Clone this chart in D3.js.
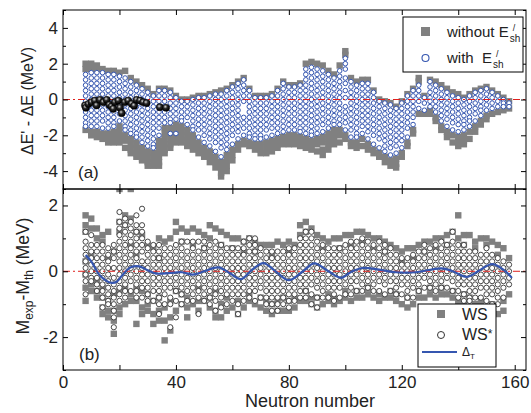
<!DOCTYPE html>
<html>
<head>
<meta charset="utf-8">
<script src="https://cdn.jsdelivr.net/npm/d3@7"></script>
<style>
  body { margin: 0; background: #fff; }
  svg { display: block; font-family: "Liberation Sans", Arial, sans-serif; }
</style>
</head>
<body>
<svg id="chart" width="531" height="413"></svg>
<script>
// ---- data (values in tenths of MeV, "N:v v v ...") ----
// panel (a): with E'sh (blue open circles)
const withEsh = [
  "8:14 11 8 5 2 -1 -4 -7 -10 -13 -15", "10:15 12 9 6 3 0 -3 -6 -9 -12 -15",
  "12:15 12 9 6 3 0 -3 -6 -9 -12 -15", "14:15 12 9 6 3 0 -3 -6 -9 -12 -16",
  "16:14 11 8 5 2 -1 -4 -7 -10 -13 -16", "18:14 11 8 5 2 -1 -4 -7 -10 -13 -15",
  "20:13 10 7 4 1 -2 -5 -8 -12", "22:12 9 6 3 0 -3 -6 -9 -12 -15 -17",
  "24:10 7 4 1 -2 -5 -8 -11 -14 -17 -19", "26:8 5 2 -1 -4 -7 -10 -13 -16 -19 -21",
  "28:6 3 0 -3 -6 -9 -12 -15 -18 -21 -24", "30:4 1 -2 -5 -8 -11 -14 -17 -20 -23 -26",
  "32:2 -1 -4 -7 -10 -13 -16 -19 -22 -25 -27", "34:5 2 -1 -4 -7 -10 -13 -16 -20",
  "36:5 2 -1 -4 -7 -10 -13", "38:4 1 -2 -5 -8 -11 -13 -19",
  "40:1 -2 -5 -8 -11 -19", "42:-1 -4 -7 -10 -12", "44:-1 -4 -7 -10 -14",
  "46:0 -3 -6 -9 -12 -15 -17", "48:1 -2 -5 -8 -11 -14 -17 -21",
  "50:1 -2 -5 -8 -11 -14 -17 -20 -24", "52:2 -1 -4 -7 -10 -13 -16 -19 -22 -26",
  "54:3 0 -3 -6 -9 -12 -15 -18 -21 -24 -29", "56:3 0 -3 -6 -9 -12 -15 -18 -21 -24 -27 -32",
  "58:5 2 -1 -4 -7 -10 -13 -16 -19 -22 -25 -28", "60:7 4 1 -2 -5 -8 -11 -14 -17 -20 -25",
  "62:9 6 3 0 -3 -6 -9 -12 -15 -18 -22", "64:11 8 5 2 -1 -10 -13 -16 -20",
  "66:5 2 -1 -4 -7 -10 -13 -16 -19 -21", "68:1 -2 -5 -8 -11 -14 -17 -20 -22",
  "70:1 -2 -5 -8 -11 -14 -17 -20 -22", "72:1 -2 -5 -8 -11 -14 -17 -21",
  "74:2 -1 -4 -7 -10 -13 -16 -20", "76:5 2 -1 -4 -7 -10 -13 -16 -19",
  "78:9 6 3 0 -3 -6 -9 -12 -15 -18", "80:7 4 1 -2 -5 -8 -11 -14 -17",
  "82:7 4 1 -2 -5 -8 -11 -14 -17", "84:8 5 2 -1 -4 -7 -10 -13 -16 -18",
  "86:17 14 11 8 5 2 -1 -4 -7 -10 -13 -16 -19", "88:18 15 12 9 6 3 0 -3 -6 -9 -12 -15 -18 -20",
  "90:17 14 11 8 5 2 -1 -4 -7 -10 -13 -16 -19", "92:16 13 10 7 4 1 -2 -5 -8 -11 -14 -18",
  "94:14 11 8 5 2 -1 -4 -7 -10 -13 -16", "96:12 9 6 3 0 -3 -6 -9 -12 -14",
  "98:16 13 10 7 4 1 -2 -5 -8 -11 -14", "100:23 20 17 12 9 5 1 -4 -7 -10 -13 -17",
  "102:10 7 4 1 -2 -5 -8 -11 -14 -17 -21", "104:8 5 2 -1 -4 -7 -10 -13 -16 -19 -21",
  "106:9 6 3 0 -3 -6 -9 -12 -15 -19", "108:9 6 3 0 -3 -6 -9 -12 -15 -18 -22",
  "110:4 1 -2 -5 -8 -11 -14 -17 -20 -25", "112:-1 -4 -7 -10 -13 -16 -19 -22 -27",
  "114:-2 -5 -8 -11 -14 -17 -20 -23 -26 -29", "116:-3 -6 -9 -12 -15 -18 -21 -24 -27 -31",
  "118:-5 -8 -11 -14 -17 -20 -23 -26 -30", "120:-2 -5 -8 -11 -14 -17 -20 -23 -27",
  "122:2 -1 -4 -7 -10 -13 -16 -21", "124:5 2 -1 -4 -7 -10 -14",
  "126:8 5 2 -1 -5", "128:1 -2 -6", "130:10 7 4 1 -1 -4", "132:8 5 2 -1 -4 -7",
  "134:6 3 0 -3 -6 -9 -12", "136:4 1 -2 -5 -8 -11 -15", "138:2 -1 -4 -7 -10 -13 -17",
  "140:1 -2 -5 -8 -11 -14 -18", "142:0 -3 -6 -9 -12 -14 -17", "144:2 -1 -4 -7 -10 -12 -15",
  "146:4 1 -2 -5 -8 -12", "148:5 2 -1 -4 -6 -9", "150:6 3 0 -3 -6", "152:4 1 -2 -5",
  "154:2 -1 -4", "156:0 -2 -4", "158:-2 -4"
];
// panel (a): without E'sh (grey squares)
const withoutEsh = [
  "8:20 17 -17", "10:20 17 -18 -20", "12:19 17 -18 -21", "14:17 -19 -22", "16:16 -19 -22 -24",
  "18:16 -18 -21 -24", "20:15 -15 -18 -21 -24", "22:16 -20 -23 -27", "24:12 -22 -25 -28 -30",
  "26:10 -24 -27 -30 -32", "28:8 -27 -30 -33 -34", "30:6 -29 -32 -35 -37", "32:3 -30 -33 -35 -37",
  "34:6 -23 -26 -29 -32 -35 -37", "36:6 -16 -19 -22 -25 -28 -30", "38:5 -16 -19 -22 -25 -27",
  "40:2 -14 -17 -20 -22 -24", "42:0 -15 -18 -21 -24", "44:0 -17 -20 -23 -26", "46:1 -20 -23 -26 -28",
  "48:2 -24 -27 -30", "50:2 -27 -30 -32", "52:3 -29 -32 -35", "54:4 -32 -35 -38",
  "56:5 -35 -38 -41 -43", "58:6 -31 -34 -37 -40", "60:8 -28 -31 -34", "62:10 -25 -28",
  "64:12 -23 -25", "66:6 -24 -26", "68:2 -25 -28", "70:2 -25 -28 -30", "72:2 -24 -27 -30",
  "74:3 -23 -26 -29", "76:6 -22 -25 -27", "78:10 -21 -24 -25", "80:8 -20 -23 -25",
  "82:8 -20 -23 -25", "84:9 -21 -24 -26", "86:20 -22 -25 -27", "88:21 -23 -26 -28",
  "90:20 -22 -25 -29", "92:19 -21 -24 -28 -31", "94:16 -19 -22 -25 -28", "96:14 -17 -20 -23 -25",
  "98:19 -17 -20 -24", "100:27 25 -20 -22", "102:12 -24 -26", "104:10 -24 -27", "106:11 -22 -26",
  "108:11 -25 -28", "110:5 -28 -30", "112:0 -30 -32", "114:-1 -32 -35", "116:-2 -34 -37",
  "118:-4 -33 -36 -38", "120:-1 -30 -32", "122:3 -24 -26", "124:6 -17 -19", "126:12 10 -8",
  "128:2 -8", "130:11 -6 -8", "132:10 -10 -12", "134:8 -15 -17", "136:6 -18 -21",
  "138:4 -20 -24", "140:3 -21 -24 -26", "142:1 -20 -23 -25", "144:3 -18 -22", "146:5 -15 -18",
  "148:6 -12 -14", "150:7 -9 -11", "152:5 -8", "154:3 -7", "156:1 -6", "158:-1 -5"
];
// panel (a): black balls [N, MeV]
const lightN = [7.8, 8.1, 9.0, 10.1, 11.3, 11.9, 13.1, 14.3, 15.5, 16.4, 17.2, 17.8, 18.4, 19.6, 20.2, 20.8, 21.9, 23.1, 24.3, 25.2, 26.1, 27.3, 28.4, 29.6, 34.3, 36.5];
const lightV = [-0.33, -0.46, -0.25, -0.15, -0.06, -0.33, -0.02, -0.15, -0.02, -0.3, -0.39, -0.52, -0.15, -0.06, -0.46, -0.76, -0.15, -0.06, -0.24, -0.35, -0.02, -0.06, -0.15, -0.2, -0.43, -0.46];

// panel (b): WS (grey squares)
const ws = [
  "8:17 14 12 3 -1 -5 -9", "10:16 13 5 -4 -6", "12:13 10 -3 -6 -8", "14:11 9 -5 -8 -11 -13",
  "16:12 4 -9 -12 -14", "18:6 -7 -12 -15 -19", "20:25 15 12 -6 -11 -13", "22:17 14 -5 -10",
  "24:25 16 8 -7 -9", "26:12 5 -5 -9 -16", "28:11 -6 -11 -13", "30:8 -7 -10 -12",
  "32:7 -9 -13 -16", "34:10 4 -8 -12 -15", "36:9 -11 -15 -21", "38:10 -9 -14 -18",
  "40:15 12 -6 -12", "42:13 9 -7 -10", "44:12 -8 -11 -14", "46:13 8 -10", "48:12 -5 -9 -12",
  "50:11 7 -9", "52:14 10 -8 -11", "54:13 -6 -12 -14", "56:12 8 -10 -14", "58:11 -8 -12",
  "60:10 7 -11", "62:10 -9 -13", "64:9 6 -11", "66:10 -7 -9", "68:9 6 -10", "70:8 -8 -11",
  "72:8 -9 -12", "74:8 5 -10 -13", "76:9 -9 -12", "78:8 -8 -12", "80:9 6 -9 -12", "82:8 -8 -11",
  "84:14 11 -9", "86:15 12 -6 -9", "88:13 -8 -10", "90:11 -8 -11", "92:10 7 -10", "94:9 -7 -9",
  "96:10 -8 -10", "98:10 7 -9", "100:11 -6 -8", "102:11 8 -9", "104:12 -6 -8", "106:12 9 -8",
  "108:11 -5 -7", "110:10 7 -8", "112:10 -7 -9", "114:9 6 -8", "116:8 -6 -8", "118:7 -7 -9",
  "120:6 3 -10", "122:7 -8 -11", "124:7 4 -10", "126:8 -6 -8", "128:9 6 -8", "130:9 -5 -7",
  "132:10 7 -8", "134:10 -5 -7", "136:11 8 -7", "138:12 -6 -8", "140:17 10 -9", "142:11 8 -7 -10",
  "144:11 -8 -11", "146:9 7 -10", "148:10 -9 -11", "150:10 8 -12", "152:9 -10 -13",
  "154:8 5 -13", "156:7 -9 -12", "158:4 -7"
];
// panel (b): WS* (open circles)
const wsStar = [
  "8:12 9 7 5 3 1 -1 -3 -7", "10:11 8 6 4 2 0 -2 -3", "12:8 6 4 2 0 -2 -4 -6",
  "14:8 6 4 2 0 -2 -4 -6 -8 -11", "16:7 5 3 1 -1 -3 -5 -7 -9 -10",
  "18:8 6 4 1 -2 -4 -6 -8 -10 -12 -14 -17", "20:18 15 13 11 9 7 5 3 1 -1 -3 -5 -7 -9",
  "22:16 14 12 10 8 6 4 2 0 -2 -4 -6 -8", "24:15 13 11 9 7 5 3 1 -1 -3 -6",
  "26:17 14 12 10 8 6 4 2 0 -2 -4 -6 -8", "28:19 14 12 10 8 6 3 1 -1 -3 -5 -8",
  "30:9 7 5 3 1 -1 -3 -5 -7 -9", "32:8 6 4 2 0 -2 -4 -6 -9",
  "34:8 6 4 2 0 -2 -4 -6 -8 -10 -13", "36:7 5 3 1 -1 -3 -5 -7 -10",
  "38:7 5 3 1 -1 -3 -5 -8 -10 -17", "40:8 6 4 2 0 -2 -4 -6 -9 -14",
  "42:9 7 5 3 1 -1 -3 -5 -7 -10", "44:9 6 4 2 0 -2 -4 -6 -9",
  "46:9 7 5 3 1 -1 -3 -5 -7 -9", "48:9 6 4 2 0 -2 -4 -6 -8 -13",
  "50:9 7 5 3 1 -1 -3 -5 -7 -9", "52:8 6 4 2 0 -2 -4 -6 -8 -10",
  "54:9 7 5 3 1 -1 -3 -5 -7 -9 -12", "56:8 6 4 2 0 -2 -4 -6 -8 -11",
  "58:7 5 3 1 -1 -3 -5 -7 -10", "60:7 5 3 1 -1 -3 -5 -7 -9",
  "62:7 5 3 1 -1 -3 -5 -7 -10 -13", "64:9 7 5 3 1 -1 -3 -5 -7 -9",
  "66:10 8 6 4 2 0 -2 -4 -6 -8", "68:10 8 6 4 2 0 -2 -4 -6 -9",
  "70:7 5 3 1 -1 -3 -5 -8", "72:6 4 2 0 -2 -4 -6 -8 -10",
  "74:6 4 2 0 -2 -4 -6 -8 -10 -12", "76:6 4 2 0 -2 -4 -6 -8 -10 -12",
  "78:6 4 2 0 -2 -4 -6 -8 -10", "80:7 5 3 1 -1 -3 -5 -7 -9 -11",
  "82:7 5 3 1 -1 -3 -5 -7 -9", "84:10 8 6 4 2 0 -2 -4 -6 -8",
  "86:12 10 8 6 4 2 0 -2 -4 -6 -8", "88:12 10 8 6 4 2 0 -2 -4 -7 -10",
  "90:9 7 5 3 1 -1 -3 -5 -8 -11", "92:8 6 4 2 0 -2 -4 -6 -8",
  "94:7 5 3 1 -1 -3 -5 -8", "96:7 5 3 1 -1 -3 -5 -7 -9", "98:7 5 3 1 -1 -3 -5 -8",
  "100:8 6 4 2 0 -2 -4 -7", "102:9 7 5 3 1 -1 -3 -5 -7", "104:9 7 5 3 1 -1 -3 -6",
  "106:10 8 6 4 2 0 -2 -4 -6", "108:9 7 5 3 1 -1 -3 -5", "110:8 6 4 2 0 -2 -4 -6",
  "112:9 7 5 3 1 -1 -3 -6", "114:8 6 4 2 0 -2 -4 -7", "116:7 5 3 1 -1 -3 -6",
  "118:5 3 1 -1 -3 -5 -7", "120:4 2 0 -2 -4 -7", "122:4 2 0 -2 -4 -6 -8",
  "124:5 3 1 -1 -3 -5 -8", "126:6 4 2 0 -2 -4 -6", "128:8 6 4 2 0 -2 -5",
  "130:7 5 3 1 -1 -3 -5", "132:8 6 4 2 0 -2 -4 -6", "134:9 7 5 3 1 -1 -3 -5",
  "136:8 6 4 2 0 -2 -5", "138:12 9 7 5 3 1 -1 -3 -6", "140:8 6 4 2 0 -2 -4 -6 -8",
  "142:8 6 4 2 0 -2 -4 -7 -9", "144:6 4 2 0 -2 -4 -6 -8 -9", "146:6 4 2 0 -2 -4 -6 -8",
  "148:5 3 1 -1 -3 -5 -8", "150:7 5 3 1 -1 -3 -5 -7 -9", "152:5 3 1 -1 -3 -5 -7 -10",
  "154:4 2 0 -2 -4 -6 -8 -10", "156:3 1 -1 -3 -5 -8", "158:2 0 -2 -4"
];
// panel (b): Delta_T curve
const deltaN = [8, 10, 13, 17, 19, 21, 24, 27, 30, 33, 38, 42, 46, 50, 55, 59, 63, 67, 71, 75, 80, 85, 89, 94, 98.5, 102, 106, 112, 118, 125, 134, 138, 143, 147, 152, 156, 159];
const deltaV = [0.49, 0.3, -0.12, -0.35, -0.32, -0.12, 0.12, 0.15, 0.03, -0.07, -0.05, -0.03, -0.1, 0.0, 0.12, -0.05, -0.24, 0.05, 0.25, 0.02, -0.27, 0.0, 0.24, 0.0, -0.2, -0.02, 0.1, 0.05, -0.03, -0.03, 0.09, 0.0, -0.17, 0.0, 0.22, 0.05, -0.2];

const xTicks = [0, 20, 40, 60, 80, 100, 120, 140, 160];
const xLabels = [0, 40, 80, 120, 160];

// ---- helpers ----
function parseCols(list) {
  return list.flatMap(s => {
    const [n, vals] = s.split(":");
    return vals.trim().split(/\s+/).map(v => ({ n: +n, v: +v / 10 }));
  });
}

const svg = d3.select("#chart");
const L = 63, R = 526;
const x = d3.scaleLinear([0, 164], [L, R]);
const yA = d3.scaleLinear([-5, 5], [189, 10]);
const yB = d3.scaleLinear([-3, 2.5], [370, 189]);

const defs = svg.append("defs");
const grad = defs.append("radialGradient").attr("id", "ball").attr("cx", "40%").attr("cy", "35%").attr("r", "60%");
grad.append("stop").attr("offset", "0%").attr("stop-color", "#d8d8d8");
grad.append("stop").attr("offset", "45%").attr("stop-color", "#2a2a2a");
grad.append("stop").attr("offset", "100%").attr("stop-color", "#000");
[["clipA", yA], ["clipB", yB]].forEach(([id, y]) => {
  defs.append("clipPath").attr("id", id).append("rect")
    .attr("x", L).attr("y", y.range()[1]).attr("width", R - L).attr("height", y.range()[0] - y.range()[1]);
});

const GREY = "#808080", BLUE = "#3556b0";

// ---- panel (a) ----
const gA = svg.append("g").attr("clip-path", "url(#clipA)");
gA.selectAll(".sqA").data(parseCols(withoutEsh)).join("rect")
  .attr("x", d => x(d.n) - 3.2).attr("y", d => yA(d.v) - 3.2)
  .attr("width", 6.4).attr("height", 6.4).attr("fill", GREY);
gA.selectAll(".cA").data(parseCols(withEsh)).join("circle")
  .attr("cx", d => x(d.n)).attr("cy", d => yA(d.v)).attr("r", 2.3)
  .attr("fill", "#fff").attr("stroke", BLUE).attr("stroke-width", 1);
gA.append("line").attr("x1", L).attr("x2", R).attr("y1", yA(0)).attr("y2", yA(0))
  .attr("stroke", "#e0201c").attr("stroke-width", 1).attr("stroke-dasharray", "7,3,2,3");
gA.selectAll(".ball").data(lightN.map((n, i) => ({ n, v: lightV[i] }))).join("circle")
  .attr("cx", d => x(d.n)).attr("cy", d => yA(d.v)).attr("r", 3.6)
  .attr("fill", "url(#ball)").attr("stroke", "#000").attr("stroke-width", 0.5);

// ---- panel (b) ----
const gB = svg.append("g").attr("clip-path", "url(#clipB)");
gB.selectAll(".sqB").data(parseCols(ws)).join("rect")
  .attr("x", d => x(d.n) - 3.2).attr("y", d => yB(d.v) - 3.2)
  .attr("width", 6.4).attr("height", 6.4).attr("fill", GREY);
gB.selectAll(".cB").data(parseCols(wsStar)).join("circle")
  .attr("cx", d => x(d.n)).attr("cy", d => yB(d.v)).attr("r", 2.6)
  .attr("fill", "#fff").attr("stroke", "#333").attr("stroke-width", 0.9);
gB.append("line").attr("x1", L).attr("x2", R).attr("y1", yB(0)).attr("y2", yB(0))
  .attr("stroke", "#e0201c").attr("stroke-width", 1).attr("stroke-dasharray", "7,3,2,3");
gB.append("path")
  .datum(deltaN.map((n, i) => [n, deltaV[i]]))
  .attr("d", d3.line().x(d => x(d[0])).y(d => yB(d[1])).curve(d3.curveCatmullRom))
  .attr("fill", "none").attr("stroke", BLUE).attr("stroke-width", 2.2);

// ---- frames and axes ----
function drawAxes(y, majors, minors, xBottomLabels) {
  const top = y.range()[1], bot = y.range()[0];
  const noDomain = g => g.select(".domain").remove();
  svg.append("g").attr("transform", `translate(0,${bot})`)
    .call(d3.axisBottom(x).tickValues(xTicks).tickSize(-5).tickPadding(6)
      .tickFormat(d => xBottomLabels && xLabels.includes(d) ? d : ""))
    .call(noDomain);
  svg.append("g").attr("transform", `translate(0,${top})`)
    .call(d3.axisTop(x).tickValues(xTicks).tickSize(-5).tickFormat(""))
    .call(noDomain);
  svg.append("g").attr("transform", `translate(${L},0)`)
    .call(d3.axisLeft(y).tickValues(majors).tickSize(-5).tickPadding(5).tickFormat(d => String(d)))
    .call(noDomain);
  svg.append("g").attr("transform", `translate(${L},0)`)
    .call(d3.axisLeft(y).tickValues(minors).tickSize(-3).tickFormat(""))
    .call(noDomain);
  svg.append("g").attr("transform", `translate(${R},0)`)
    .call(d3.axisRight(y).tickValues(majors).tickSize(-5).tickFormat(""))
    .call(noDomain);
  svg.append("g").attr("transform", `translate(${R},0)`)
    .call(d3.axisRight(y).tickValues(minors).tickSize(-3).tickFormat(""))
    .call(noDomain);
  svg.append("rect").attr("x", L).attr("y", top).attr("width", R - L).attr("height", bot - top)
    .attr("fill", "none").attr("stroke", "#000").attr("stroke-width", 1);
}
drawAxes(yA, [-4, -2, 0, 2, 4], [-5, -3, -1, 1, 3, 5], false);
drawAxes(yB, [-2, 0, 2], [-3, -1, 1], true);
svg.selectAll(".tick text").attr("font-size", 17).attr("fill", "#222");
svg.selectAll(".tick line").attr("stroke", "#000");

// ---- labels ----
svg.append("text").attr("x", 310).attr("y", 407).attr("text-anchor", "middle")
  .attr("font-size", 18).attr("fill", "#222").text("Neutron number");

svg.append("text").attr("transform", "translate(33,101) rotate(-90)").attr("text-anchor", "middle")
  .attr("font-size", 16).attr("fill", "#222").text("\u0394E' - \u0394E (MeV)");

const yl = svg.append("text").attr("transform", "translate(29,276) rotate(-90)").attr("text-anchor", "middle")
  .attr("font-size", 17.5).attr("fill", "#222");
yl.append("tspan").text("M");
yl.append("tspan").attr("font-size", 12).attr("dy", 4).text("exp");
yl.append("tspan").attr("dy", -4).text("-M");
yl.append("tspan").attr("font-size", 12).attr("dy", 4).text("th");
yl.append("tspan").attr("dy", -4).text(" (MeV)");

svg.append("text").attr("x", 78).attr("y", 178).attr("font-size", 17).attr("fill", "#222").text("(a)");
svg.append("text").attr("x", 79).attr("y", 360).attr("font-size", 17).attr("fill", "#222").text("(b)");

// ---- legend (a) ----
const lgA = svg.append("g");
lgA.append("rect").attr("x", 403).attr("y", 17).attr("width", 120).attr("height", 55)
  .attr("fill", "#fff").attr("stroke", "#000").attr("stroke-width", 1);
lgA.append("rect").attr("x", 421).attr("y", 27).attr("width", 9).attr("height", 9).attr("fill", GREY);
lgA.append("circle").attr("cx", 425.5).attr("cy", 58).attr("r", 3.5)
  .attr("fill", "#fff").attr("stroke", BLUE).attr("stroke-width", 1.1);
[["without E", 37], ["with  E", 63]].forEach(([t, by]) => {
  const txt = lgA.append("text").attr("x", 447).attr("y", by).attr("font-size", 15)
    .attr("fill", "#222").attr("xml:space", "preserve").text(t);
  const w = txt.node().getComputedTextLength();
  lgA.append("text").attr("x", 447 + w + 4).attr("y", by - 6).attr("font-size", 9).attr("fill", "#222").text("/");
  lgA.append("text").attr("x", 447 + w + 1).attr("y", by + 5).attr("font-size", 10).attr("fill", "#222").text("sh");
});

// ---- legend (b) ----
const lgB = svg.append("g");
lgB.append("rect").attr("x", 418).attr("y", 304).attr("width", 78).attr("height", 63)
  .attr("fill", "#fff").attr("stroke", "#000").attr("stroke-width", 1);
lgB.append("rect").attr("x", 437).attr("y", 310).attr("width", 8).attr("height", 8).attr("fill", GREY);
lgB.append("circle").attr("cx", 441).attr("cy", 335).attr("r", 3.5)
  .attr("fill", "#fff").attr("stroke", "#333").attr("stroke-width", 1);
lgB.append("line").attr("x1", 422).attr("x2", 457).attr("y1", 352).attr("y2", 352)
  .attr("stroke", BLUE).attr("stroke-width", 2);
lgB.append("text").attr("x", 462).attr("y", 320).attr("font-size", 16).attr("fill", "#222").text("WS");
const ws2 = lgB.append("text").attr("x", 462).attr("y", 340).attr("font-size", 16).attr("fill", "#222");
ws2.append("tspan").text("WS");
ws2.append("tspan").attr("font-size", 12).attr("dy", -2).text("*");
const dl = lgB.append("text").attr("x", 462).attr("y", 356).attr("font-size", 12).attr("fill", "#222");
dl.append("tspan").text("\u0394");
dl.append("tspan").attr("font-size", 8).attr("dy", 3).text("T");
</script>
</body>
</html>
